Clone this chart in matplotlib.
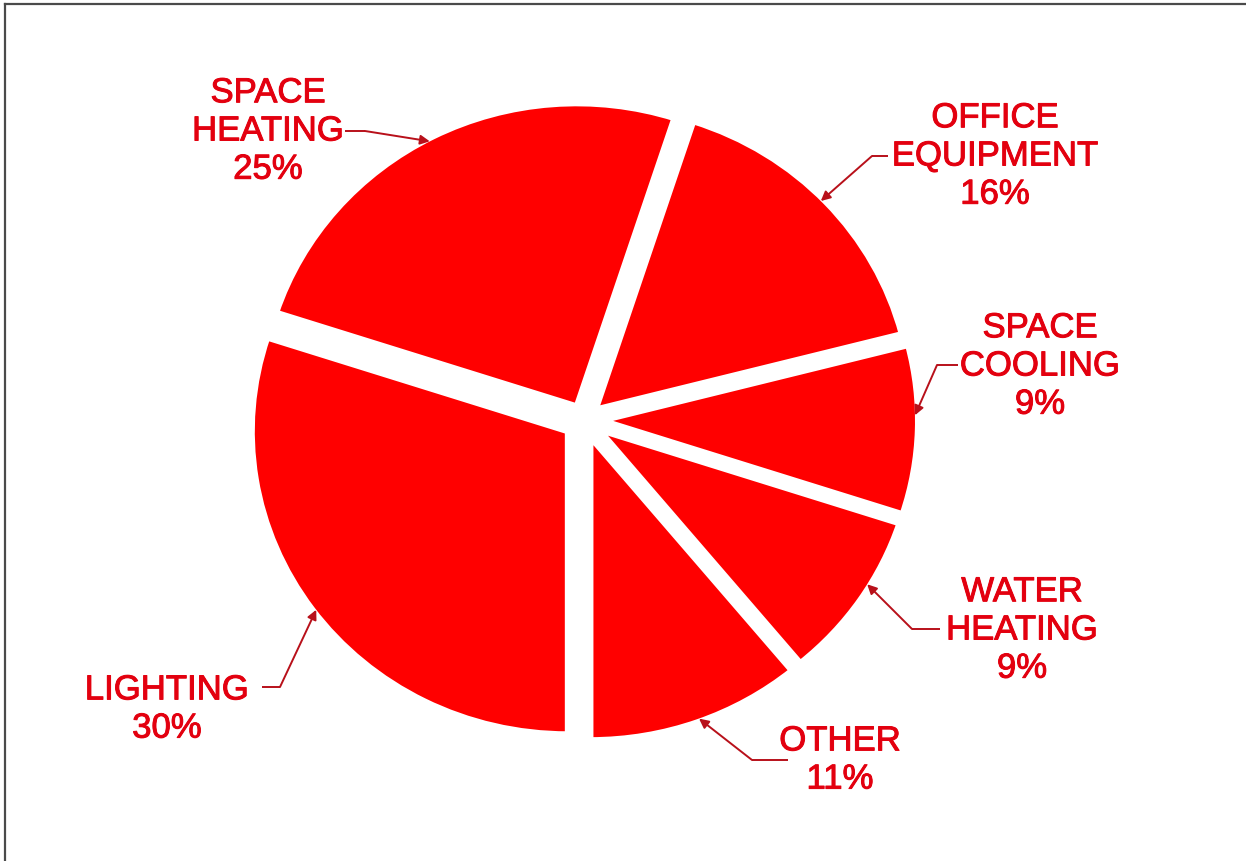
import numpy as np
import matplotlib.pyplot as plt
import matplotlib.patheffects as pe
from matplotlib.lines import Line2D

# === Data ===
labels = ["LIGHTING", "SPACE\nHEATING", "OFFICE\nEQUIPMENT",
          "SPACE\nCOOLING", "WATER\nHEATING", "OTHER"]
shares = [30, 25, 16, 9, 9, 11]

# === Layout (pixel units, image y measured from top) ===
W, H = 1246, 862
CX, CY = 584, 421
RX, RY = 316, 303          # the original pie is slightly wider than tall
K = RX / RY                # y data units per pixel
explode_px = [20, 16, 16, 18, 18, 19]
GAP = 6  # white edge width in px

# label block centres and leader lines: text end -> elbow -> tip angle on slice edge
label_pos = [(167, 710), (268, 132), (995, 157), (1040, 367), (1022, 631), (840, 761)]
leader_start = [(262, 688), (345, 132), (888, 157), (958, 366), (940, 630), (788, 761)]
leader_elbow = [(280, 688), (365, 132), (872, 157), (937, 366), (912, 630), (752, 761)]
tip_angle = [216.5, 118, 44, 1, -31, -69.7]

RED = "#ff0000"
TEXT_RED = "#e3000f"
LINE_RED = "#b8101a"


def to_data(x, y):
    return x, (H - y) * K


plt.rcParams["font.family"] = ["Liberation Sans", "DejaVu Sans"]

fig = plt.figure(figsize=(W / 100, H / 100), dpi=100)
ax = fig.add_axes([0, 0, 1, 1])

center = to_data(CX, CY)
ax.pie(shares, radius=RX, center=center, startangle=270, counterclock=False,
       explode=explode_px, colors=[RED] * len(shares), frame=True,
       wedgeprops=dict(edgecolor="white", linewidth=GAP * 0.72, joinstyle="round"))

ax.set_xlim(0, W)
ax.set_ylim(0, H * K)
ax.set_aspect("auto")
ax.axis("off")

# slice offsets, same as pie's explode
total = sum(shares)
theta = 270.0
for i, s in enumerate(shares):
    t2 = theta - 360.0 * s / total
    mid = np.deg2rad((theta + t2) / 2)
    ox = center[0] + explode_px[i] * np.cos(mid)
    oy = center[1] + explode_px[i] * np.sin(mid)
    theta = t2

    a = np.deg2rad(tip_angle[i])
    tip = (ox + (RX - GAP / 2) * np.cos(a), oy + (RX - GAP / 2) * np.sin(a))
    sx, sy = to_data(*leader_start[i])
    ex, ey = to_data(*leader_elbow[i])
    ax.plot([sx, ex], [sy, ey], color=LINE_RED, lw=1.4, solid_capstyle="butt")
    ax.annotate("", xy=tip, xytext=(ex, ey),
                arrowprops=dict(arrowstyle="-|>", color=LINE_RED, lw=1.4,
                                mutation_scale=14, shrinkA=0, shrinkB=0))

    lx, ly = to_data(*label_pos[i])
    ax.text(lx, ly, f"{labels[i]}\n{s}%", ha="center", va="center",
            fontsize=25, color=TEXT_RED, linespacing=1.2, multialignment="center",
            path_effects=[pe.withStroke(linewidth=0.7, foreground=TEXT_RED)])

# frame edges (top and left visible in the original scan)
fig.add_artist(Line2D([5 / W, 1], [1 - 5 / H, 1 - 5 / H], color="#4a4a4a", lw=1.6,
                      transform=fig.transFigure))
fig.add_artist(Line2D([5 / W, 5 / W], [0, 1 - 5 / H], color="#4a4a4a", lw=1.6,
                      transform=fig.transFigure))

plt.savefig("out.png", dpi=100)
